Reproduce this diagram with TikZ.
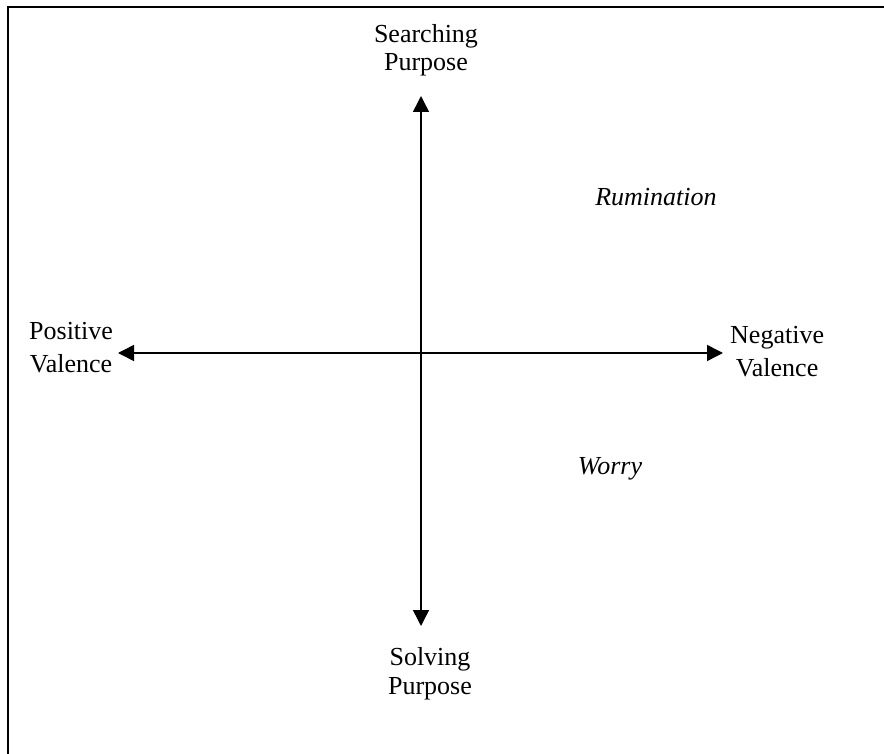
\documentclass[tikz,border=0pt]{standalone}
\usepackage{fontspec}
\setmainfont{Liberation Serif}
\usetikzlibrary{arrows.meta}

\begin{document}
\begin{tikzpicture}[
    x=1pt, y=-1pt,
    every node/.style={align=center, inner sep=0pt, font=\fontsize{26}{29}\selectfont},
    pole/.style={font=\fontsize{26}{33}\selectfont},
    region/.style={font=\fontsize{26}{30}\selectfont\itshape, anchor=base},
    axisline/.style={draw, line width=1.5pt, {Triangle[width=16pt,length=16pt]}-{Triangle[width=16pt,length=16pt]}},
    frame/.style={draw, line width=2pt}
]
\useasboundingbox (0,0) rectangle (884,754);
\clip (0,0) rectangle (884,754);

\draw[frame] (8,7) rectangle (900,780);

% axis ends
\coordinate (top) at (421,96);
\coordinate (bottom) at (421,626);
\coordinate (left) at (118,353);
\coordinate (right) at (723,353);

\draw[axisline] (bottom) -- (top);
\draw[axisline] (left) -- (right);

\node[font=\fontsize{26}{28}\selectfont] (searching) at (426,50) {Searching\\Purpose};
\node (solving) at (430,674) {Solving\\Purpose};
\node[pole, anchor=west] (positive) at (29,348) {Positive\\Valence};
\node[pole, anchor=west] (negative) at (730,352) {Negative\\Valence};

\node[region] (rumination) at (656,206) {Rumination};
\node[region] (worry) at (610,474) {Worry};
\end{tikzpicture}
\end{document}
